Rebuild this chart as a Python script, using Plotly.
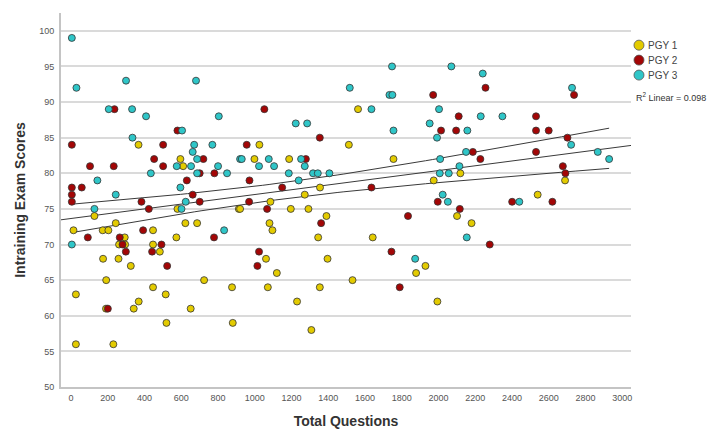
import numpy as np
import plotly.graph_objects as go

# ---- data ----
pgy1_q = [367, 595, 610, 13, 127, 172, 203, 243, 292, 261, 294, 174, 258, 325, 191, 26, 190, 26, 230, 341,
          368, 446, 446, 483, 446, 515, 519, 573, 579, 622, 686, 651, 724, 876, 880, 913, 1562, 1025, 1512, 998,
          1187, 1755, 2119, 1974, 1355, 1272, 1085, 920, 1196, 1292, 1390, 2101, 1080, 2180, 1096, 1345, 1642,
          1061, 1120, 1396, 1929, 1878, 1071, 1354, 1532, 1230, 1994, 1308, 2689, 2540]
pgy1_s = [84, 82, 81, 72, 74, 72, 72, 73, 71, 70, 70, 68, 68, 67, 65, 63, 61, 56, 56, 61,
          62, 72, 70, 69, 64, 63, 59, 71, 75, 73, 73, 61, 65, 64, 59, 75, 89, 84, 84, 82,
          82, 82, 80, 79, 78, 77, 76, 75, 75, 75, 74, 74, 73, 73, 72, 71, 71,
          68, 66, 68, 67, 66, 64, 64, 65, 62, 62, 58, 79, 77]

pgy2_q = [236, 4, 501, 579, 103, 232, 452, 501, 720, 700, 780, 4, 58, 4, 4, 630, 662, 91, 265, 280,
          298, 200, 383, 423, 392, 441, 492, 523, 700, 778, 1971, 1052, 2110, 2014, 2096, 1354, 956, 1278,
          971, 1149, 1635, 969, 1996, 1067, 2116, 1834, 1361, 1023, 1014, 1744, 1789, 2256, 2738, 2531,
          2531, 2600, 2702, 2187, 2531, 2228, 2677, 2691, 2401, 2620, 2279]
pgy2_s = [89, 84, 84, 86, 81, 81, 82, 81, 82, 80, 80, 78, 78, 77, 76, 79, 77, 71, 71, 70,
          69, 61, 76, 75, 72, 69, 70, 67, 76, 71, 91, 89, 88, 86, 86, 85, 84, 82,
          79, 78, 78, 76, 76, 75, 75, 74, 73, 69, 67, 69, 64, 92, 91, 88,
          86, 86, 85, 83, 83, 82, 81, 80, 76, 76, 70]

pgy3_q = [4, 29, 299, 680, 205, 332, 408, 804, 334, 604, 670, 769, 662, 575, 653, 686, 686, 434, 800, 849,
          920, 143, 243, 595, 127, 4, 601, 624, 833, 1747, 2070, 1517, 1733, 1749, 1635, 2003, 1223, 1285,
          1952, 1755, 2157, 1992, 929, 1076, 1252, 2009, 1023, 1105, 1272, 1185, 1317, 1343, 1406, 2007,
          2056, 2114, 2150, 1239, 2023, 2051, 2154, 1873, 2241, 2727, 2230, 2348, 2722, 2867, 2929, 2440]
pgy3_s = [99, 92, 93, 93, 89, 89, 88, 88, 85, 86, 84, 84, 83, 81, 81, 82, 80, 80, 81, 80,
          82, 79, 77, 78, 75, 70, 75, 76, 72, 95, 95, 92, 91, 91, 89, 89, 87, 87,
          87, 86, 86, 85, 82, 82, 82, 82, 81, 81, 81, 80, 80, 80, 80, 80,
          80, 81, 83, 79, 77, 76, 71, 68, 94, 92, 88, 88, 84, 83, 82, 76]

group_names = ["PGY 1", "PGY 2", "PGY 3"]
group_colors = ["#e3cb00", "#a30606", "#2fc6c8"]
x_ticks = list(range(0, 3001, 200))
y_ticks = list(range(50, 101, 5))
r2_label = "R<sup>2</sup> Linear = 0.098"

# ---- linear fit with 95% mean confidence band ----
all_q = np.array(pgy1_q + pgy2_q + pgy3_q, dtype=float)
all_s = np.array(pgy1_s + pgy2_s + pgy3_s, dtype=float)
slope, intercept = np.polyfit(all_q, all_s, 1)
n = len(all_q)
resid = all_s - (intercept + slope * all_q)
se = np.sqrt(np.sum(resid ** 2) / (n - 2))
qbar = all_q.mean()
sxx = np.sum((all_q - qbar) ** 2)
tcrit = 1.973
xr = [-55, 3048]
fit_x = np.array(xr, dtype=float)
fit_y = intercept + slope * fit_x
ci_x = np.linspace(all_q.min(), all_q.max(), 80)
half = tcrit * se * np.sqrt(1.0 / n + (ci_x - qbar) ** 2 / sxx)
ci_mid = intercept + slope * ci_x

fig = go.Figure()
line_style = dict(color="#3a3a3a", width=1)
fig.add_trace(go.Scatter(x=fit_x, y=fit_y, mode="lines", line=line_style, showlegend=False, hoverinfo="skip"))
fig.add_trace(go.Scatter(x=ci_x, y=ci_mid + half, mode="lines", line=line_style, showlegend=False, hoverinfo="skip"))
fig.add_trace(go.Scatter(x=ci_x, y=ci_mid - half, mode="lines", line=line_style, showlegend=False, hoverinfo="skip"))

for qs, ss, name, col in zip([pgy1_q, pgy2_q, pgy3_q], [pgy1_s, pgy2_s, pgy3_s], group_names, group_colors):
    fig.add_trace(go.Scatter(x=qs, y=ss, mode="markers", name=name, showlegend=False,
                             marker=dict(size=7, color=col, line=dict(color="#333333", width=0.8))))

# compact legend drawn with pixel-sized shapes and text
shapes = []
annotations = []
leg_x = 1.014
leg_y = [0.914, 0.874, 0.834]
for name, col, ly in zip(group_names, group_colors, leg_y):
    shapes.append(dict(type="circle", xref="paper", yref="paper", xsizemode="pixel", ysizemode="pixel",
                       xanchor=leg_x, yanchor=ly, x0=-5, x1=5, y0=-5, y1=5,
                       fillcolor=col, line=dict(color="#555555", width=0.8)))
    annotations.append(dict(text=name, xref="paper", yref="paper", x=leg_x + 0.012, y=ly,
                            xanchor="left", yanchor="middle", showarrow=False,
                            font=dict(size=10, color="#444444")))
annotations.append(dict(text=r2_label, xref="paper", yref="paper", x=1.006, y=0.776,
                        xanchor="left", yanchor="middle", showarrow=False,
                        font=dict(size=9, color="#333333")))

fig.update_layout(
    width=719, height=429,
    margin=dict(l=61, r=88, t=13, b=42, autoexpand=False),
    paper_bgcolor="white", plot_bgcolor="white",
    font=dict(family="Liberation Sans, Arial, sans-serif", color="#444444"),
    showlegend=False,
    shapes=shapes,
    annotations=annotations,
)
fig.update_xaxes(range=xr, tickvals=x_ticks, ticktext=[str(v) for v in x_ticks],
                 showgrid=False, zeroline=False, showline=True, linecolor="#c4c4c4", linewidth=2,
                 ticks="", ticklabelstandoff=1, automargin=False,
                 tickfont=dict(family="Liberation Sans, Arial, sans-serif", size=9, color="#555555"),
                 title=dict(text="Total Questions", standoff=16,
                            font=dict(size=14, color="#333333", weight="bold")))
fig.update_yaxes(range=[50, 102.5], tickvals=y_ticks, ticktext=[str(v) for v in y_ticks],
                 showgrid=True, gridcolor="#dadada", gridwidth=1.5, zeroline=False,
                 showline=True, linecolor="#c4c4c4", linewidth=2, ticks="", automargin=False,
                 ticklabelstandoff=3,
                 tickfont=dict(family="Liberation Sans, Arial, sans-serif", size=9, color="#555555"),
                 title=dict(text="Intraining Exam Scores", standoff=10,
                            font=dict(size=14, color="#333333", weight="bold")))

fig.write_html("out.html")
